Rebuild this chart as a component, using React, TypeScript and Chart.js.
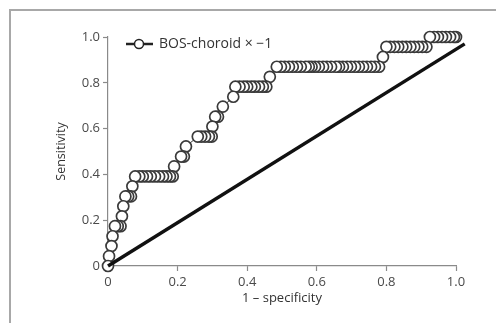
import React, { useEffect, useRef } from "react";
import { Chart, registerables } from "chart.js";

Chart.register(...registerables);

// ROC curve points (1 - specificity, sensitivity), ordered from (0,0) to (1,1)
const fpr: number[] = [
  0, 0.003, 0.01, 0.013, 0.02, 0.028, 0.036, 0.04, 0.044, 0.05, 0.058, 0.066, 0.07,
  0.078, 0.09, 0.1, 0.112, 0.123, 0.135, 0.147, 0.158, 0.168, 0.178, 0.186,
  0.19, 0.21, 0.218, 0.224,
  0.258, 0.268, 0.279, 0.29, 0.298,
  0.3, 0.308, 0.316, 0.33, 0.36,
  0.366, 0.378, 0.39, 0.4, 0.412, 0.422, 0.434, 0.445, 0.455,
  0.465,
  0.485, 0.497, 0.508, 0.52, 0.531, 0.543, 0.554, 0.568, 0.577, 0.585, 0.595, 0.606,
  0.618, 0.629, 0.641, 0.655, 0.664, 0.675, 0.687, 0.698, 0.71, 0.721, 0.733, 0.744,
  0.756, 0.767, 0.779,
  0.79,
  0.8, 0.811, 0.823, 0.834, 0.846, 0.857, 0.869, 0.88, 0.892, 0.903, 0.915,
  0.925, 0.937, 0.948, 0.96, 0.971, 0.983, 0.994, 1.0,
];
const tpr: number[] = [
  0, 0.043, 0.087, 0.13, 0.174, 0.174, 0.174, 0.217, 0.261, 0.304, 0.304, 0.304, 0.348,
  0.391, 0.391, 0.391, 0.391, 0.391, 0.391, 0.391, 0.391, 0.391, 0.391, 0.391,
  0.435, 0.478, 0.478, 0.522,
  0.565, 0.565, 0.565, 0.565, 0.565,
  0.609, 0.652, 0.652, 0.696, 0.739,
  0.783, 0.783, 0.783, 0.783, 0.783, 0.783, 0.783, 0.783, 0.783,
  0.826,
  0.87, 0.87, 0.87, 0.87, 0.87, 0.87, 0.87, 0.87, 0.87, 0.87, 0.87, 0.87,
  0.87, 0.87, 0.87, 0.87, 0.87, 0.87, 0.87, 0.87, 0.87, 0.87, 0.87, 0.87,
  0.87, 0.87, 0.87,
  0.913,
  0.957, 0.957, 0.957, 0.957, 0.957, 0.957, 0.957, 0.957, 0.957, 0.957, 0.957,
  1.0, 1.0, 1.0, 1.0, 1.0, 1.0, 1.0, 1.0,
];

// Reference (chance) line endpoints
const refX: number[] = [0, 1.025];
const refY: number[] = [0, 0.97];

const tickValues: number[] = [0, 0.2, 0.4, 0.6, 0.8, 1.0];
const legendLabel = "BOS-choroid \u00d7 \u22121";
const xTitle = "1 \u2013 specificity";
const yTitle = "Sensitivity";

const FONT = "'Open Sans', 'Noto Sans', sans-serif";

const framePlugin = {
  id: "frame",
  beforeDraw(chart: any) {
    const ctx = chart.ctx;
    ctx.save();
    ctx.fillStyle = "#ffffff";
    ctx.fillRect(0, 0, chart.width, chart.height);
    ctx.strokeStyle = "#a8a8a8";
    ctx.lineWidth = 2;
    ctx.beginPath();
    ctx.moveTo(10, chart.height);
    ctx.lineTo(10, 10);
    ctx.lineTo(chart.width, 10);
    ctx.stroke();
    ctx.restore();
  },
};

const legendPlugin = {
  id: "insideLegend",
  afterDraw(chart: any) {
    const ctx = chart.ctx;
    const { left, top } = chart.chartArea;
    const y = top + 7;
    ctx.save();
    ctx.strokeStyle = "#222";
    ctx.lineWidth = 2.5;
    ctx.beginPath();
    ctx.moveTo(left + 18, y);
    ctx.lineTo(left + 45, y);
    ctx.stroke();
    ctx.beginPath();
    ctx.arc(left + 31, y, 4.5, 0, Math.PI * 2);
    ctx.fillStyle = "#fff";
    ctx.fill();
    ctx.lineWidth = 1.5;
    ctx.stroke();
    ctx.fillStyle = "#333";
    ctx.font = `14px ${FONT}`;
    ctx.textBaseline = "middle";
    ctx.textAlign = "left";
    ctx.fillText(legendLabel, left + 51, y + 0.5);
    ctx.restore();
  },
};

export default function App() {
  const canvasRef = useRef<HTMLCanvasElement | null>(null);

  useEffect(() => {
    if (!canvasRef.current) return;
    const rocPoints = fpr.map((x, i) => ({ x, y: tpr[i] })).reverse();
    const refPoints = refX.map((x, i) => ({ x, y: refY[i] }));

    const axisCommon = {
      type: "linear" as const,
      min: 0,
      max: 1,
      border: { display: true, color: "#8a8a8a", width: 1.2 },
      grid: {
        drawOnChartArea: false,
        drawTicks: true,
        tickLength: 5,
        tickColor: "#8a8a8a",
        tickWidth: 1.2,
      },
      afterBuildTicks: (scale: any) => {
        scale.ticks = tickValues.map((v) => ({ value: v }));
      },
      ticks: {
        padding: 3,
        color: "#4a4a4a",
        font: { family: FONT, size: 13 },
        callback: (v: any) => (Number(v) === 0 ? "0" : Number(v).toFixed(1)),
        maxRotation: 0,
        autoSkip: false,
      },
    };

    const chart = new Chart(canvasRef.current, {
      type: "scatter",
      data: {
        datasets: [
          {
            label: "reference",
            data: refPoints,
            showLine: true,
            borderColor: "#111",
            borderWidth: 3.5,
            pointRadius: 0,
            clip: false as any,
          },
          {
            label: legendLabel,
            data: rocPoints,
            showLine: true,
            borderColor: "#333",
            borderWidth: 1,
            pointRadius: 5.5,
            pointBorderWidth: 1.7,
            pointBorderColor: "#3a3a3a",
            pointBackgroundColor: "#ffffff",
            clip: false as any,
          },
        ],
      },
      options: {
        animation: false,
        responsive: false,
        devicePixelRatio: 1,
        layout: { padding: { top: 37, right: 40, left: 0, bottom: 0 } },
        plugins: {
          legend: { display: false },
          tooltip: { enabled: false },
        },
        scales: {
          x: {
            ...axisCommon,
            position: "bottom",
            afterFit: (s: any) => {
              s.height = 57;
            },
            title: {
              display: true,
              text: xTitle,
              color: "#333",
              font: { family: FONT, size: 13 },
              padding: { top: 0, bottom: 17 },
            },
          },
          y: {
            ...axisCommon,
            position: "left",
            afterFit: (s: any) => {
              s.width = 108;
            },
            title: {
              display: true,
              text: yTitle,
              color: "#333",
              font: { family: FONT, size: 12.5 },
              padding: { top: 54, bottom: 0 },
            },
          },
        },
      } as any,
      plugins: [framePlugin, legendPlugin],
    });
    return () => chart.destroy();
  }, []);

  return (
    <div style={{ position: "absolute", left: 0, top: 0, width: 496, height: 323, background: "#fff" }}>
      <canvas ref={canvasRef} width={496} height={323} style={{ display: "block", width: 496, height: 323 }} />
    </div>
  );
}
